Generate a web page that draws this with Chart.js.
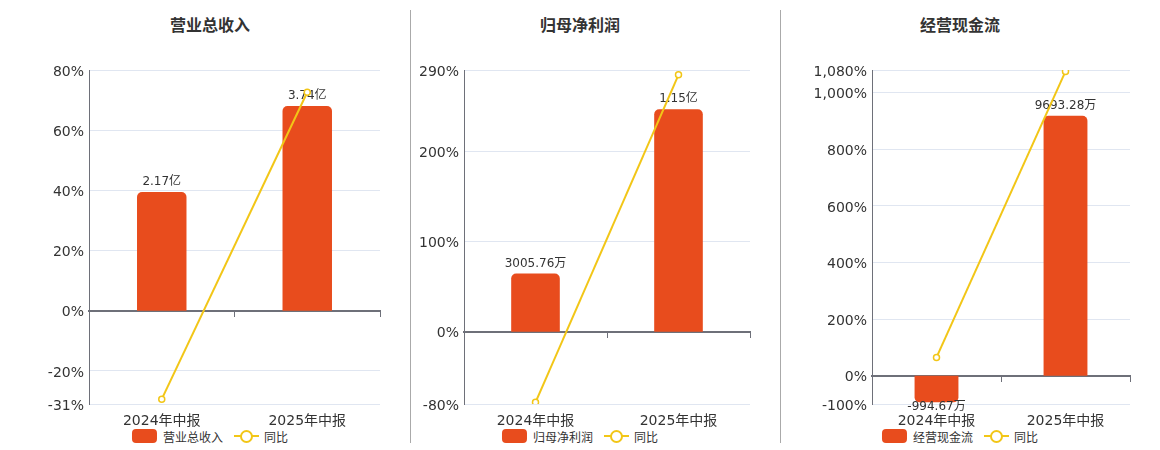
<!DOCTYPE html>
<html>
<head>
<meta charset="utf-8">
<script src="https://cdn.jsdelivr.net/npm/chart.js@4.4.1/dist/chart.umd.min.js"></script>
<style>
  body { margin: 0; width: 1160px; height: 450px; background: #fff; position: relative; overflow: hidden;
         font-family: "DejaVu Sans", "Noto Sans CJK SC", sans-serif; color: #333; }
  .title { position: absolute; top: 12px; width: 200px; margin-left: -100px; text-align: center;
           font-size: 16px; font-weight: bold; color: #333; font-family: "Noto Sans CJK SC", sans-serif; }
  .sep { position: absolute; top: 10px; height: 433px; width: 1px; background: #aaa; }
  canvas { position: absolute; top: 40px; }
  .legend { position: absolute; top: 429px; height: 14px; display: flex; align-items: center;
            font-size: 12px; color: #333; transform: translateX(-50%); white-space: nowrap;
            font-family: "Noto Sans CJK SC", sans-serif; }
  .legend .box { width: 25px; height: 14px; border-radius: 4px; background: #E84C1D; margin-right: 6px; }
  .legend .ln { position: relative; width: 25px; height: 14px; margin: 0 5px 0 11px; }
  .legend .ln::before { content: ""; position: absolute; left: 0; right: 0; top: 6px; height: 2px; background: #F2C617; }
  .legend .ln::after { content: ""; position: absolute; left: 6px; top: 1px; width: 9px; height: 9px; border-radius: 50%;
                       border: 2px solid #F2C617; background: #fff; }
</style>
</head>
<body>
<div class="sep" style="left:410px"></div>
<div class="sep" style="left:780px"></div>

<div class="title" style="left:210px">营业总收入</div>
<div class="title" style="left:580px">归母净利润</div>
<div class="title" style="left:960px">经营现金流</div>

<canvas id="c1" width="370" height="388" style="left:20px"></canvas>
<canvas id="c2" width="340" height="388" style="left:420px"></canvas>
<canvas id="c3" width="350" height="388" style="left:790px"></canvas>

<div class="legend" style="left:210px"><span class="box"></span>营业总收入<span class="ln"></span>同比</div>
<div class="legend" style="left:580px"><span class="box"></span>归母净利润<span class="ln"></span>同比</div>
<div class="legend" style="left:960px"><span class="box"></span>经营现金流<span class="ln"></span>同比</div>

<script>
// 报告期
const categories = ['2024年中报', '2025年中报'];

// 金额 (万元)
const revenue = [21700, 37400];
const profit = [3005.76, 11500];
const cashflow = [-994.67, 9693.28];

// 同比 (%)
const revenueYoY = [-29.4, 72.6];
const profitYoY = [-78.1, 284.6];
const cashflowYoY = [64.5, 1075];

// 左轴刻度
const revenueTicks = [-31, -20, 0, 20, 40, 60, 80];
const profitTicks = [-80, 0, 100, 200, 290];
const cashflowTicks = [-100, 0, 200, 400, 600, 800, 1000, 1080];

const barColor = '#E84C1D';
const lineColor = '#F2C617';
Chart.defaults.font.family = '"DejaVu Sans", "Noto Sans CJK SC", sans-serif';
Chart.defaults.color = '#333';

function fmtAmount(v) {
  if (Math.abs(v) >= 10000) return (v / 10000).toFixed(2) + '亿';
  return v.toFixed(2) + '万';
}

// 柱子上方的数值标签
const barLabels = {
  id: 'barLabels',
  afterDatasetDraw(chart, args) {
    if (args.index !== 0) return;
    const ctx = chart.ctx;
    ctx.save();
    ctx.font = '12px "DejaVu Sans", "Noto Sans CJK SC", sans-serif';
    ctx.fillStyle = '#333';
    ctx.textAlign = 'center';
    ctx.textBaseline = 'middle';
    args.meta.data.forEach((bar, i) => {
      const v = chart.data.datasets[0].data[i];
      const y = v >= 0 ? bar.y - 10 : bar.y + 5;
      ctx.fillText(fmtAmount(v), bar.x, y);
    });
    ctx.restore();
  }
};

function makeChart(id, name, bars, yoy, ticks, yWidth) {
  const pMin = ticks[0], pMax = ticks[ticks.length - 1];
  const bMax = Math.max(...bars) / 0.85;
  const bMin = bMax * pMin / pMax;
  new Chart(document.getElementById(id), {
    type: 'bar',
    data: {
      labels: categories,
      datasets: [
        {
          type: 'bar', label: name, data: bars, yAxisID: 'y1', xAxisID: 'x',
          backgroundColor: barColor, borderRadius: 5, borderSkipped: 'start',
          categoryPercentage: 1, barPercentage: 0.34, order: 1
        },
        {
          type: 'line', label: '同比', data: yoy, yAxisID: 'y', xAxisID: 'x',
          borderColor: lineColor, borderWidth: 2, pointRadius: 3, pointBorderWidth: 1.5,
          pointBackgroundColor: '#fff', pointBorderColor: lineColor, order: 0
        }
      ]
    },
    options: {
      responsive: false,
      animation: false,
      layout: { padding: { top: 30, right: 10, left: 0, bottom: 0 } },
      plugins: { legend: { display: false }, tooltip: { enabled: false } },
      scales: {
        x: {
          type: 'category',
          position: 'bottom',
          border: { display: false },
          grid: { display: false, drawTicks: false },
          ticks: { padding: 9, font: { size: 14 }, color: '#333', maxRotation: 0 },
          afterFit: s => { s.height = 24; }
        },
        xz: {
          type: 'category',
          position: { y: 0 },
          border: { display: true, color: '#6E7079', width: 2 },
          grid: { drawOnChartArea: false, drawTicks: true, tickLength: 5, color: '#6E7079', offset: true },
          ticks: { display: false }
        },
        y: {
          position: 'left',
          min: pMin, max: pMax,
          afterBuildTicks: s => { s.ticks = ticks.map(v => ({ value: v })); },
          border: { display: true, color: '#6E7079', width: 1 },
          grid: { color: '#E0E6F1', drawTicks: false },
          ticks: {
            autoSkip: false, padding: 5, labelOffset: 2, font: { size: 14 }, color: '#333',
            callback: v => v.toLocaleString('en-US') + '%'
          },
          afterFit: s => { s.width = yWidth; }
        },
        y1: { display: false, min: bMin, max: bMax }
      }
    },
    plugins: [barLabels]
  });
}

makeChart('c1', '营业总收入', revenue, revenueYoY, revenueTicks, 69);
makeChart('c2', '归母净利润', profit, profitYoY, profitTicks, 44);
makeChart('c3', '经营现金流', cashflow, cashflowYoY, cashflowTicks, 82);
</script>
</body>
</html>
